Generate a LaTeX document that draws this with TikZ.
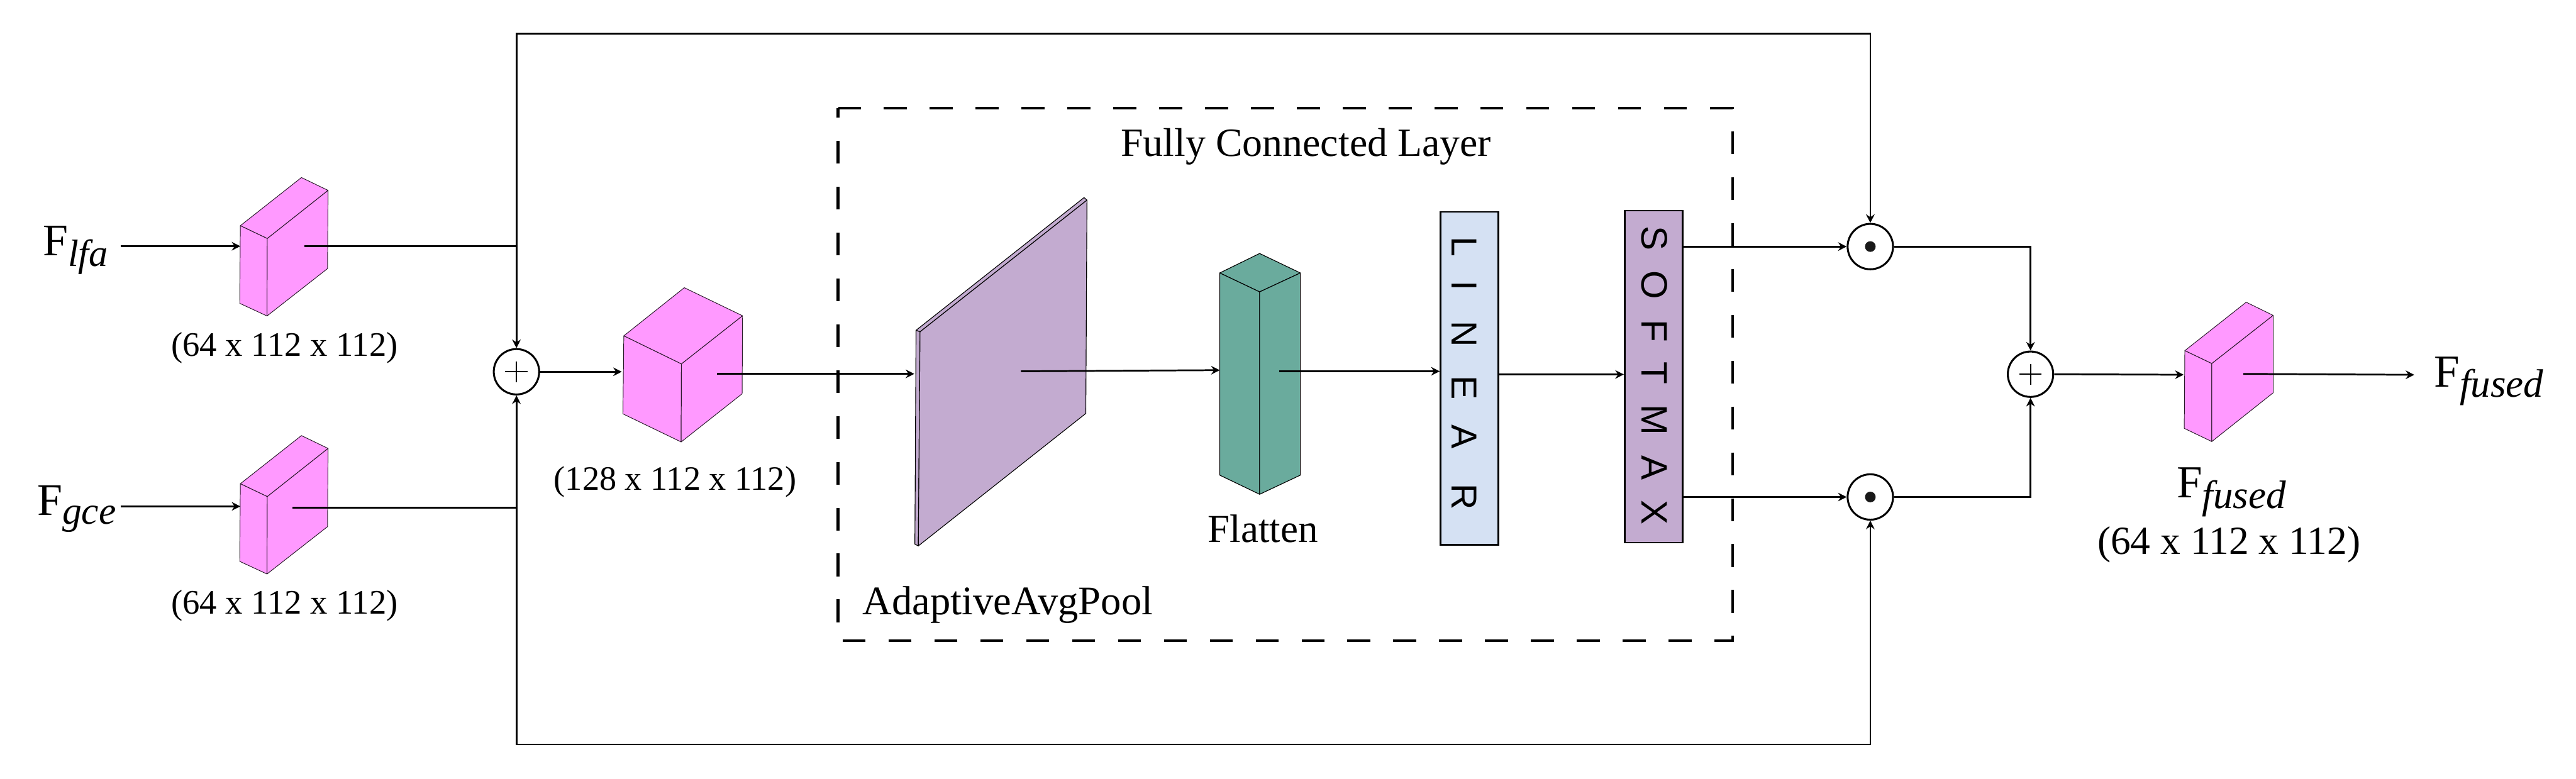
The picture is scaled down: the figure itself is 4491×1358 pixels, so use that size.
\documentclass[tikz,border=0pt]{standalone}
\usepackage{fontspec}
\setmainfont{Liberation Serif}
\newfontfamily\lblsans{Liberation Sans}
\usetikzlibrary{arrows.meta}
\definecolor{cubepink}{HTML}{FF99FF}
\definecolor{poolpurple}{HTML}{C3ABD0}
\definecolor{flatgreen}{HTML}{6AAB9D}
\definecolor{linblue}{HTML}{D5E1F3}
\newcommand{\fsz}[1]{\fontsize{#1pt}{#1pt}\selectfont}
% cube: left-top, back-top, right-top, mid-top, mid-bottom, left-bottom, right-bottom
\newcommand{\drawcube}[7]{%
  \path[cubeface] #1 -- #2 -- #3 -- #4 -- cycle;
  \path[cubeface] #1 -- #4 -- #5 -- #6 -- cycle;
  \path[cubeface] #4 -- #3 -- #7 -- #5 -- cycle;
}
\newcommand{\subbed}[3]{F\raisebox{-#1pt}{\fsz{#2}\itshape #3}}
\tikzset{
  x=0.24pt, y=-0.24pt,
  cubeface/.style={fill=cubepink, draw=black!85!cubepink, line width=0.25pt, line join=round},
  wire/.style={draw=black, line width=0.72pt, line join=miter},
  arrow/.style={wire, -{Stealth[length=3.6pt,width=3.6pt,inset=1.2pt]}},
  arrowboth/.style={wire, {Stealth[length=3.6pt,width=3.6pt,inset=1.2pt]}-{Stealth[length=3.6pt,width=3.6pt,inset=1.2pt]}},
  opcircle/.style={circle, draw=black, fill=white, line width=0.8pt, minimum size=19pt, inner sep=0pt},
  txt/.style={inner sep=0pt, anchor=base, text=black},
  txtl/.style={inner sep=0pt, anchor=base west, text=black},
  layerbox/.style={draw=black, line width=0.72pt, inner sep=0pt, anchor=north west},
  vertlabel/.style={inner sep=0pt, anchor=base west, rotate=-90, text=black},
  solid3d/.style={draw=black, line width=0.3pt, line join=round},
}
\begin{document}
\begin{tikzpicture}
\useasboundingbox (0,0) rectangle (4491,1358);

% feature cubes
\drawcube{(419,393.6)}{(525.5,309.6)}{(572,332)}{(466,416)}{(465.5,551)}{(418,529)}{(571,468.4)}
\drawcube{(419,843.6)}{(525.5,759.6)}{(572,782)}{(466,866)}{(465.5,1001)}{(418,979)}{(571,918.4)}
\drawcube{(1087.5,585.7)}{(1193,501.7)}{(1294.6,550.7)}{(1188,634.7)}{(1187.5,770.7)}{(1086,721.7)}{(1293.8,686.7)}
\drawcube{(3809,611.5)}{(3916,527)}{(3963,550)}{(3856,634)}{(3856,770)}{(3808,747)}{(3963,685)}

% dashed frame
\draw[line width=1.2pt, dash pattern=on 9.6pt off 9.6pt, line cap=butt]
  (1461,188.7) -- (3020.7,188.7) -- (3020.7,1117.3) -- (1461,1117.3) -- cycle;

% adaptive pool panel
\path[fill=poolpurple, solid3d] (1597,576) -- (1890,344.5) -- (1895,349) -- (1604,578.6) -- cycle;
\path[fill=poolpurple, solid3d] (1597,576) -- (1604,578.6) -- (1601,952) -- (1595,949) -- cycle;
\path[fill=poolpurple, solid3d] (1604,578.6) -- (1895,349) -- (1893,721) -- (1601,952) -- cycle;

% flatten prism
\path[fill=flatgreen, solid3d] (2126.5,476) -- (2196,442) -- (2267,476) -- (2196,509) -- cycle;
\path[fill=flatgreen, solid3d] (2126.5,476) -- (2196,509) -- (2196,862) -- (2126.5,828.6) -- cycle;
\path[fill=flatgreen, solid3d] (2196,509) -- (2267,476) -- (2267,828.6) -- (2196,862) -- cycle;

% layer boxes
\node[layerbox, fill=linblue, minimum width=24.2pt, minimum height=139.3pt] (linear) at (2510,368) {};
\node[layerbox, fill=poolpurple, minimum width=24.2pt, minimum height=139pt] (softmax) at (2831,365.7) {};
\node[vertlabel] (lineartxt) at (2530.6,412) {\lblsans\fsz{15.1}\spaceskip=11.3pt L\hspace{-1.2pt} I\hspace{1.4pt} N\hspace{.5pt} E\hspace{-.7pt} A\hspace{3.4pt} R};
\node[vertlabel] (softmaxtxt) at (2861.7,393.7) {\lblsans\fsz{15.4}\spaceskip=8.4pt S O F T M A X};

% operators
\node[opcircle] (plusA) at (900.4,648.3) {};
\node[opcircle] (plusB) at (3540,652.6) {};
\node[opcircle] (dotA) at (3260.7,430) {};
\node[opcircle] (dotB) at (3260.7,866.7) {};
\draw[line width=0.6pt] (plusA.center) ++(-19.5,0) -- ++(39,0) ++(-19.5,-18) -- ++(0,36);
\draw[line width=0.6pt] (plusB.center) ++(-19.5,0) -- ++(39,0) ++(-19.5,-18) -- ++(0,36);
\fill[black!90] (dotA.center) circle (2.23pt);
\fill[black!90] (dotB.center) circle (2.23pt);

% free connector ends
\coordinate (inL) at (210.5,429.4);
\coordinate (inLe) at (419,429.4);
\coordinate (inG) at (210.5,883);
\coordinate (inGe) at (419,883);
\coordinate (cubeLout) at (531,429.4);
\coordinate (cubeGout) at (510,885);
\coordinate (cubeMin) at (1084,648.3);
\coordinate (cubeMout) at (1250.4,652);
\coordinate (poolIn) at (1594,652);
\coordinate (poolOut) at (1780,647.5);
\coordinate (flatIn) at (2126.5,645.5);
\coordinate (flatOut) at (2230.6,647.5);
\coordinate (cubeFin) at (3807,653.5);
\coordinate (cubeFout) at (3911,652);
\coordinate (finalOut) at (4209,653.6);
\coordinate (topL) at (900.4,58.3);
\coordinate (topR) at (3260.7,58.3);
\coordinate (botL) at (900.4,1298.3);
\coordinate (botR) at (3260.7,1298.3);
\coordinate (midY) at (2700,653);

% connectors
\draw[arrow] (inL) -- (inLe);
\draw[arrow] (inG) -- (inGe);
\draw[wire] (cubeLout) -- (plusA.north |- cubeLout);
\draw[wire] (cubeGout) -- (plusA.south |- cubeGout);
\draw[arrowboth] (plusA.north) -- (topL) -- (topR) -- (dotA.north);
\draw[arrowboth] (plusA.south) -- (botL) -- (botR) -- (dotB.south);
\draw[arrow] (plusA.east) -- (cubeMin);
\draw[arrow] (cubeMout) -- (poolIn);
\draw[arrow] (poolOut) -- (flatIn);
\draw[arrow] (flatOut) -- (linear.west |- flatOut);
\draw[arrow] (linear.east |- midY) -- (softmax.west |- midY);
\draw[arrow] (softmax.east |- dotA) -- (dotA.west);
\draw[arrow] (softmax.east |- dotB) -- (dotB.west);
\draw[arrow] (dotA.east) -| (plusB.north);
\draw[arrow] (dotB.east) -| (plusB.south);
\draw[arrow] (plusB.east) -- (cubeFin);
\draw[arrow] (cubeFout) -- (finalOut);

% labels
\node[txtl] (flfa) at (74,446) {\fsz{18.9}\subbed{4.3}{15.9}{lfa}};
\node[txtl] (fgce) at (64,898) {\fsz{18.9}\subbed{3.9}{16.2}{gce}};
\node[txtl] (ffinal) at (4243,674.6) {\fsz{19.2}\subbed{4.4}{16.6}{fused}};
\node[txtl] (ffused) at (3794,868) {\fsz{19.2}\subbed{4.4}{16.6}{fused}};
\node[txt] (dimL) at (496,621) {\fsz{14.4}(64 x 112 x 112)};
\node[txt] (dimG) at (496,1071) {\fsz{14.4}(64 x 112 x 112)};
\node[txt] (dimM) at (1177,855) {\fsz{14.3}(128 x 112 x 112)};
\node[txt] (dimF) at (3886,967) {\fsz{16.7}(64 x 112 x 112)};
\node[txt] (fcl) at (2277,272.4) {\fsz{16.8}Fully Connected Layer};
\node[txtl] (aap) at (1503,1071.6) {\fsz{17}AdaptiveAvgPool};
\node[txt] (flat) at (2202,946) {\fsz{16.6}Flatten};
\end{tikzpicture}
\end{document}
